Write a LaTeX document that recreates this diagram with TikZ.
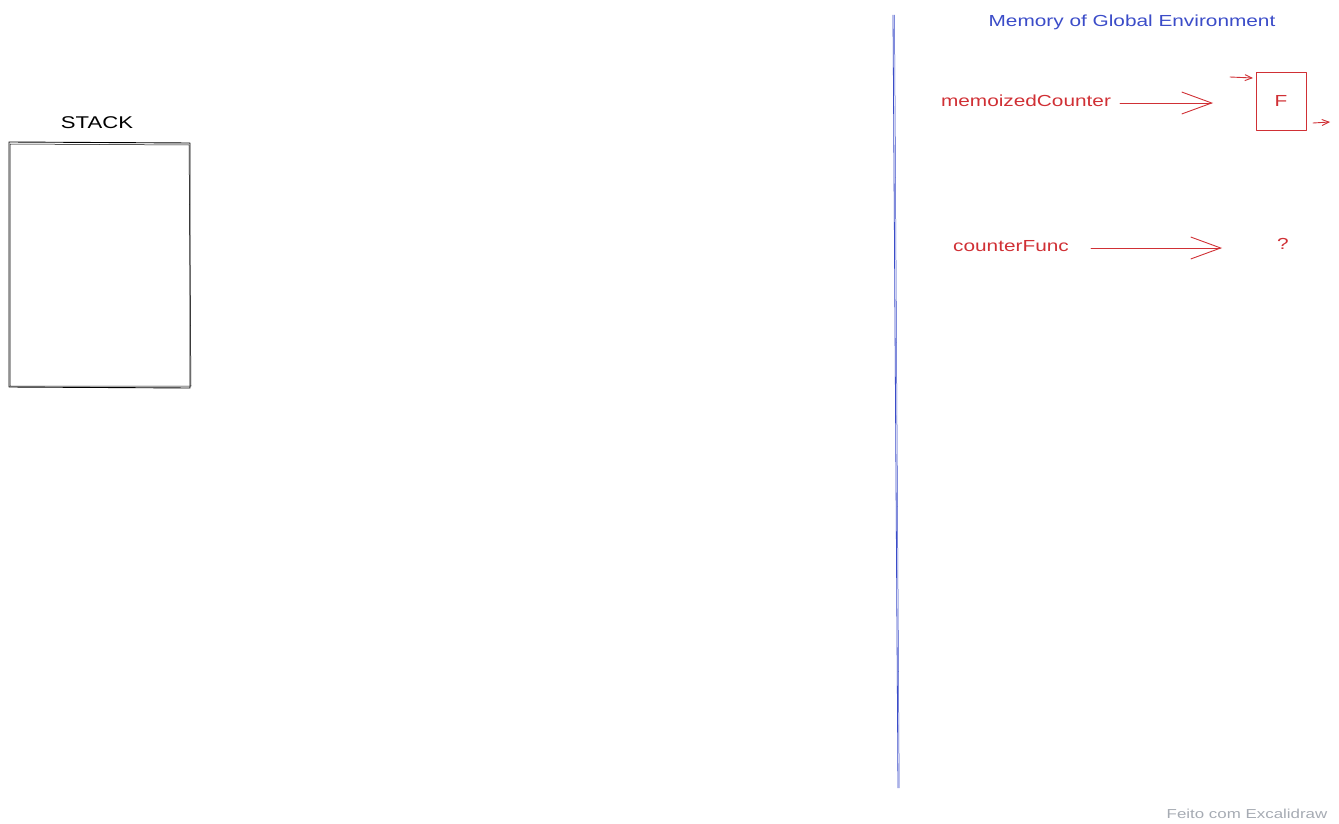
\documentclass[tikz,border=0pt]{standalone}
\usepackage{fontspec}
\setmainfont{Liberation Sans}
\newfontfamily\handfont[FakeStretch=1.3]{Liberation Sans}
\usetikzlibrary{arrows.meta}
\definecolor{inkred}{HTML}{D03035}
\definecolor{inkblue}{HTML}{3B4CC8}
\definecolor{inkgray}{HTML}{A6ABB3}
\begin{document}
\begin{tikzpicture}[x=1pt,y=-1pt,
  sketch/.style={line width=0.9pt, line join=round, line cap=round},
  redtxt/.style={text=inkred, font=\handfont\fontsize{16}{16}\selectfont, inner sep=0pt},
  bigarrow/.style={sketch, draw=inkred, -{Straight Barb[length=30pt,width=22pt,line width=0.9pt]}},
  smallarrow/.style={sketch, draw=inkred, -{Straight Barb[length=7pt,width=6pt,line width=0.9pt]}}]
\useasboundingbox (0,0) rectangle (1339,824);

% stack frame
\node[font=\handfont\fontsize{17}{17}\selectfont, inner sep=0pt] (stacklabel) at (97,123) {STACK};
\draw[sketch] (9,142) -- (190,143) -- (190,388) -- (9,387) -- cycle;
\draw[sketch, line width=0.5pt] (10,144) -- (189,145) -- (191,386) -- (10,386) -- cycle;

% divider between stack and memory
\coordinate (divtop) at (893,15);
\coordinate (divbot) at (898,788);
\draw[inkblue, line width=0.8pt] (divtop) -- (divbot);
\draw[inkblue, line width=0.5pt] ([xshift=1.5pt]divtop) -- ([xshift=1.2pt]divbot);

% memory section
\node[text=inkblue, font=\handfont\fontsize{16}{16}\selectfont, inner sep=0pt] (memtitle) at (1132,22) {Memory of Global Environment};

\node[redtxt] (memo) at (1026,101) {memoizedCounter};
\node[draw=inkred, sketch, minimum width=50pt, minimum height=58pt, redtxt] (fbox) at (1281,101) {F};
\coordinate (memostart) at (1120,103);
\coordinate (memoend) at (1213,103);
\draw[bigarrow] (memostart) -- (memoend);

\coordinate (inA) at (1230,77);
\coordinate (inB) at (1253,78);
\draw[smallarrow] (inA) -- (inB);
\coordinate (outA) at (1313,123);
\coordinate (outB) at (1330,122);
\draw[smallarrow] (outA) -- (outB);

\node[redtxt] (cfunc) at (1011,246) {counterFunc};
\node[redtxt] (qmark) at (1283,244) {?};
\coordinate (cfstart) at (1091,248);
\coordinate (cfend) at (1222,248);
\draw[bigarrow] (cfstart) -- (cfend);

% footer
\node[text=inkgray, font=\handfont\fontsize{13}{13}\selectfont, inner sep=0pt] (footer) at (1247,814) {Feito com Excalidraw};
\end{tikzpicture}
\end{document}
